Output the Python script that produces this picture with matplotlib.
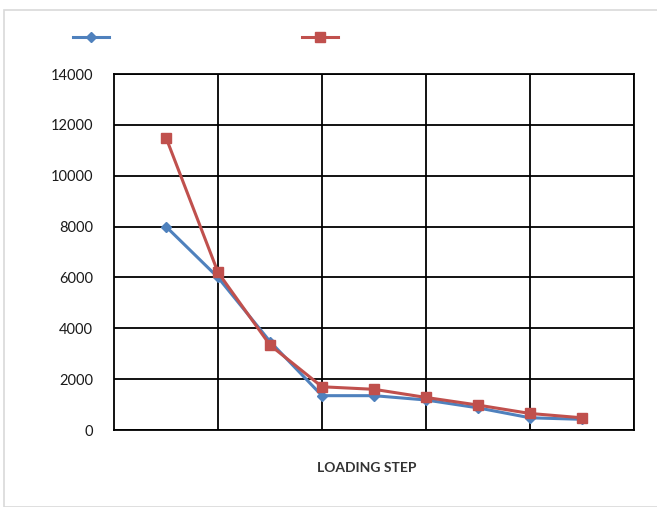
import matplotlib
matplotlib.use("Agg")
import matplotlib.pyplot as plt
from matplotlib.lines import Line2D
from matplotlib.patches import Rectangle

steps = [1, 2, 3, 4, 5, 6, 7, 8, 9]
series_a = [8000, 6000, 3480, 1350, 1350, 1180, 870, 480, 420]
series_b = [11500, 6200, 3340, 1700, 1600, 1280, 980, 650, 480]
y_ticks = [0, 2000, 4000, 6000, 8000, 10000, 12000, 14000]

plt.rcParams['font.family'] = ['Lato', 'DejaVu Sans']

fig = plt.figure(figsize=(6.57, 5.07), dpi=100)
fig.add_artist(Rectangle((4/657, 0), 1, 1 - 10/507, transform=fig.transFigure,
                         fill=False, edgecolor='#d9d9d9', linewidth=1.2))

ax = fig.add_axes([114/657, 1 - 430/507, 520/657, 356/507])
blue = '#4F81BD'
red = '#C0504D'
ax.plot(steps, series_a, color=blue, lw=2.2, marker='D', ms=5.5, zorder=3)
ax.plot(steps, series_b, color=red, lw=2.2, marker='s', ms=7.5, zorder=4)

ax.set_xlim(0, 10)
ax.set_ylim(0, 14000)
ax.set_yticks(y_ticks)
ax.set_yticklabels([str(v) for v in y_ticks], fontsize=10.5, color='#1a1a1a')
ax.set_xticks([2, 4, 6, 8, 10])
ax.set_xticklabels([])
ax.tick_params(axis='both', length=0, pad=15)
ax.grid(True, color='black', lw=1.3)
for s in ax.spines.values():
    s.set_color('black')
    s.set_linewidth(1.3)

fig.text(367/657, 1 - 468/507, 'LOADING STEP', ha='center', va='center',
         fontsize=10, fontweight='bold', color='#333333')

handles = [Line2D([], [], color=blue, lw=2.2, marker='D', ms=5.5),
           Line2D([], [], color=red, lw=2.2, marker='s', ms=7.5)]
fig.legend(handles, ['', ''], loc='center left', bbox_to_anchor=(60/657, 1 - 38/507),
           ncol=2, frameon=False, handlelength=2.6, columnspacing=13.9, handletextpad=0)

fig.savefig('out.png', dpi=100)
